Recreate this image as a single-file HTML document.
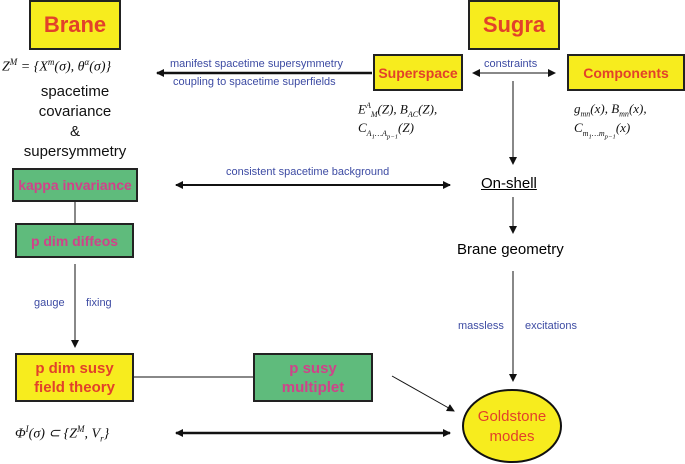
<!DOCTYPE html>
<html><head><meta charset="utf-8"><style>
body{margin:0;width:685px;height:464px;background:#fff;position:relative;overflow:hidden;font-family:"Liberation Sans",sans-serif}
.b{position:absolute;box-sizing:border-box;border:2px solid #222;display:flex;align-items:center;justify-content:center;text-align:center}
.y{background:#f7ec1e;color:#e2412a;font-weight:bold}
.g{background:#5fbb7c;color:#d0428a;font-weight:bold}
.t{position:absolute;white-space:nowrap;line-height:1}
.bl{color:#3d4ba3;font-size:11px}
.m{font-family:"Liberation Serif",serif;font-style:italic;font-size:14px;color:#111}
.k{font-size:15px;color:#111;text-align:center}
</style></head><body>
<svg width="685" height="464" style="position:absolute;left:0;top:0">
<defs><marker id="a" markerWidth="8" markerHeight="8" refX="7" refY="4" orient="auto-start-reverse" markerUnits="userSpaceOnUse"><path d="M0,0L8,4L0,8Z" fill="#111"/></marker></defs>
<g stroke="#111" fill="none">
<line x1="372" y1="73" x2="157" y2="73" stroke-width="2.5" marker-end="url(#a)"/>
<line x1="473" y1="73" x2="555" y2="73" stroke-width="1" marker-start="url(#a)" marker-end="url(#a)"/>
<line x1="513" y1="81" x2="513" y2="164" stroke-width="1" marker-end="url(#a)"/>
<line x1="513" y1="197" x2="513" y2="233" stroke-width="1" marker-end="url(#a)"/>
<line x1="513" y1="271" x2="513" y2="381" stroke-width="1" marker-end="url(#a)"/>
<line x1="176" y1="185" x2="450" y2="185" stroke-width="2" marker-start="url(#a)" marker-end="url(#a)"/>
<line x1="75" y1="202" x2="75" y2="223" stroke-width="1"/>
<line x1="75" y1="264" x2="75" y2="347" stroke-width="1" marker-end="url(#a)"/>
<line x1="134" y1="377" x2="254" y2="377" stroke-width="1"/>
<line x1="392" y1="376" x2="454" y2="411" stroke-width="1" marker-end="url(#a)"/>
<line x1="176" y1="433" x2="450" y2="433" stroke-width="2.5" marker-start="url(#a)" marker-end="url(#a)"/>
</g>
<ellipse cx="512" cy="426" rx="49" ry="36" fill="#f7ec1e" stroke="#111" stroke-width="2"/>
</svg>
<div class="b y" style="left:29px;top:0;width:92px;height:50px;font-size:22px">Brane</div>
<div class="b y" style="left:468px;top:0;width:92px;height:50px;font-size:22px">Sugra</div>
<div class="b y" style="left:373px;top:54px;width:90px;height:37px;font-size:14px">Superspace</div>
<div class="b y" style="left:567px;top:54px;width:118px;height:37px;font-size:14px">Components</div>
<div class="b g" style="left:12px;top:168px;width:126px;height:34px;font-size:14px">kappa invariance</div>
<div class="b g" style="left:15px;top:223px;width:119px;height:35px;font-size:14px">p dim diffeos</div>
<div class="b y" style="left:15px;top:353px;width:119px;height:49px;font-size:15px;line-height:19px">p dim susy<br>field theory</div>
<div class="b g" style="left:253px;top:353px;width:120px;height:49px;font-size:15px;line-height:19px">p susy<br>multiplet</div>
<div class="t" style="left:463px;top:407px;width:98px;text-align:center;color:#e2412a;font-size:15px;line-height:20px">Goldstone<br>modes</div>
<div class="t m" style="left:2px;top:58px">Z<sup style="font-size:9px">M</sup> = {X<sup style="font-size:9px">m</sup>(σ), θ<sup style="font-size:9px">α</sup>(σ)}</div>
<div class="t k" style="left:10px;top:82px;width:130px;line-height:20px;white-space:normal">spacetime<br>covariance<br>&amp;<br>supersymmetry</div>
<div class="t bl" style="left:170px;top:59px">manifest spacetime supersymmetry</div>
<div class="t bl" style="left:173px;top:77px">coupling to spacetime superfields</div>
<div class="t bl" style="left:484px;top:59px">constraints</div>
<div class="t m" style="left:358px;top:102px;font-size:13px">E<sup style="font-size:8px">A</sup><sub style="font-size:8px">M</sub>(Z), B<sub style="font-size:8px">AC</sub>(Z),</div>
<div class="t m" style="left:358px;top:121px;font-size:13px">C<sub style="font-size:8px">A<sub>1</sub>…A<sub>p−1</sub></sub>(Z)</div>
<div class="t m" style="left:574px;top:102px;font-size:13px">g<sub style="font-size:8px">mn</sub>(x), B<sub style="font-size:8px">mn</sub>(x),</div>
<div class="t m" style="left:574px;top:121px;font-size:13px">C<sub style="font-size:8px">m<sub>1</sub>…m<sub>p−1</sub></sub>(x)</div>
<div class="t bl" style="left:226px;top:167px">consistent spacetime background</div>
<div class="t" style="left:481px;top:176px;font-size:15px;text-decoration:underline">On-shell</div>
<div class="t" style="left:457px;top:242px;font-size:15px">Brane geometry</div>
<div class="t bl" style="left:34px;top:298px">gauge</div>
<div class="t bl" style="left:86px;top:298px">fixing</div>
<div class="t bl" style="left:458px;top:321px">massless</div>
<div class="t bl" style="left:525px;top:321px">excitations</div>
<div class="t m" style="left:15px;top:425px">Φ<sup style="font-size:9px">I</sup>(σ) ⊂ {Z<sup style="font-size:9px">M</sup>, V<sub style="font-size:9px">r</sub>}</div>
</body></html>
